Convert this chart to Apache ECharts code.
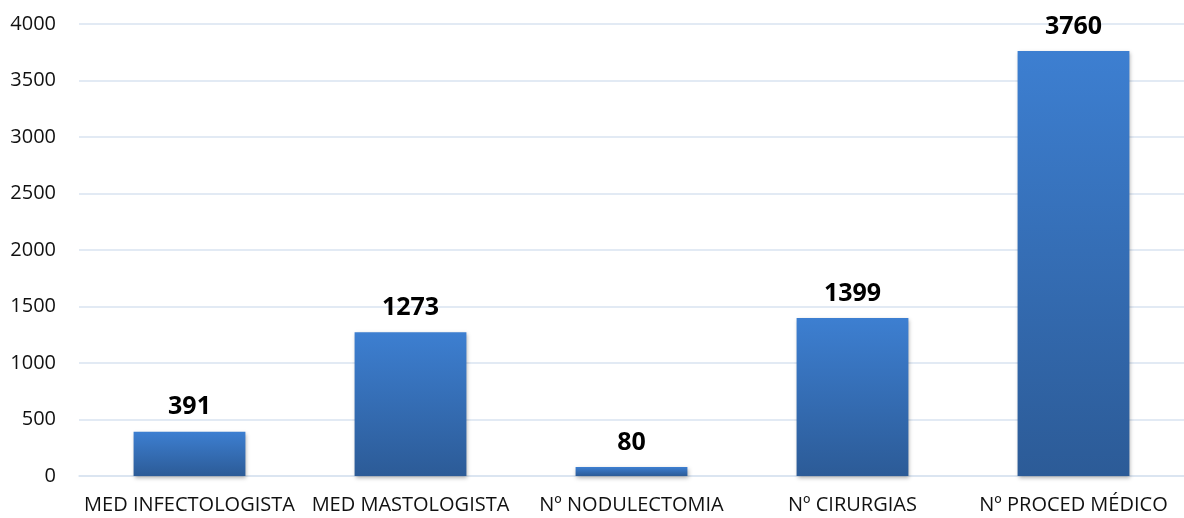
<!DOCTYPE html>
<html>
<head>
<meta charset="utf-8">
<script src="https://cdn.jsdelivr.net/npm/echarts@6/dist/echarts.min.js"></script>
<style>
  html, body { margin: 0; padding: 0; background: #fff; }
  #chart { width: 1184px; height: 518px; }
</style>
</head>
<body>
<div id="chart"></div>
<script>
// 分类与数值
const categories = ['MED INFECTOLOGISTA', 'MED MASTOLOGISTA', 'Nº NODULECTOMIA', 'Nº CIRURGIAS', 'Nº PROCED MÉDICO'];
const values = [391, 1273, 80, 1399, 3760];

const chart = echarts.init(document.getElementById('chart'));

const option = {
    animation: false,
    grid: { left: 79, right: -2, top: 24, bottom: 42 },
    xAxis: {
        type: 'category',
        data: categories,
        axisLine: { show: true, lineStyle: { color: '#d9e3f0', width: 1.5 } },
        axisTick: { show: false },
        axisLabel: {
            color: '#111',
            fontFamily: 'Open Sans',
            fontSize: 20,
            margin: 19,
            interval: 0
        }
    },
    yAxis: {
        type: 'value',
        min: 0,
        max: 4000,
        interval: 500,
        axisLine: { show: false },
        axisTick: { show: false },
        axisLabel: {
            color: '#111',
            fontFamily: 'Open Sans',
            fontSize: 20,
            margin: 23,
            formatter: function (v) { return String(v); }
        },
        splitLine: { lineStyle: { color: '#d9e3f0', width: 1.5 } }
    },
    series: [{
        type: 'bar',
        data: values,
        barWidth: '50.6%',
        itemStyle: {
            color: new echarts.graphic.LinearGradient(0, 0, 0, 1, [
                { offset: 0, color: '#3d7fd1' },
                { offset: 1, color: '#2c5b97' }
            ]),
            shadowColor: 'rgba(0,0,0,0.3)',
            shadowBlur: 4,
            shadowOffsetX: 1,
            shadowOffsetY: 2
        },
        label: {
            show: true,
            position: 'top',
            distance: 12,
            color: '#000',
            fontFamily: 'Open Sans',
            fontWeight: 'bold',
            fontSize: 25
        }
    }]
};

chart.setOption(option);
window.addEventListener('resize', function () { chart.resize(); });
</script>
</body>
</html>
